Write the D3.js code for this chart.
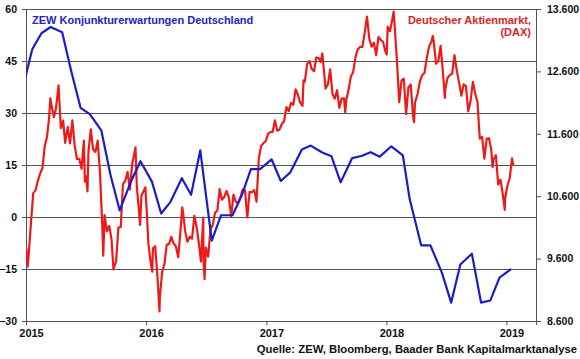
<!DOCTYPE html>
<html lang="de">
<head>
<meta charset="utf-8">
<title>ZEW und DAX</title>
<script src="https://cdnjs.cloudflare.com/ajax/libs/d3/7.8.5/d3.min.js"></script>
<style>
  html, body { margin: 0; padding: 0; background: #fff; }
  text { font-family: "Liberation Sans", Arial, sans-serif; font-weight: bold; }
</style>
</head>
<body>
<script>
// ZEW Konjunkturerwartungen (Veröffentlichungstermine, monatlich)
const zewDates = [
  "2014-12-16",
  "2015-01-20","2015-02-17","2015-03-17","2015-04-21","2015-05-19","2015-06-16",
  "2015-07-14","2015-08-18","2015-09-15","2015-10-13","2015-11-17","2015-12-15",
  "2016-01-19","2016-02-16","2016-03-15","2016-04-19","2016-05-17","2016-06-14",
  "2016-07-19","2016-08-16","2016-09-20","2016-10-18","2016-11-15","2016-12-13",
  "2017-01-17","2017-02-14","2017-03-14","2017-04-19","2017-05-16","2017-06-20",
  "2017-07-18","2017-08-15","2017-09-19","2017-10-17","2017-11-14","2017-12-12",
  "2018-01-16","2018-02-20","2018-03-13","2018-04-17","2018-05-15","2018-06-19",
  "2018-07-17","2018-08-14","2018-09-18","2018-10-16","2018-11-13","2018-12-11",
  "2019-01-15"
];
const zewValues = [
  34.9,
  48.4, 53.0, 54.8, 53.3, 41.9, 31.5, 29.7, 25.0, 12.1, 1.9, 10.4, 16.1,
  10.2, 1.0, 4.3, 11.2, 6.4, 19.2, -6.8, 0.5, 0.5, 6.2, 13.8, 13.8,
  16.6, 10.4, 12.8, 19.5, 20.6, 18.6, 17.5, 10.0, 17.0, 17.6, 18.7, 17.4,
  20.4, 17.8, 5.1, -8.2, -8.2, -16.1, -24.7, -13.7, -10.6, -24.7, -24.1, -17.5,
  -15.0
];

// DAX (Schlusskurse, etwa wöchentlich)
const daxDates = [
  "2015-01-02","2015-01-06","2015-01-09","2015-01-16","2015-01-23","2015-01-30",
  "2015-02-06","2015-02-13","2015-02-20","2015-02-27","2015-03-06","2015-03-13",
  "2015-03-16","2015-03-20","2015-03-27","2015-04-02","2015-04-10","2015-04-17",
  "2015-04-24","2015-04-30","2015-05-08","2015-05-15","2015-05-22","2015-05-29",
  "2015-06-05","2015-06-12","2015-06-19","2015-06-26","2015-06-29","2015-07-03",
  "2015-07-07","2015-07-10","2015-07-17","2015-07-24","2015-07-31","2015-08-07",
  "2015-08-14","2015-08-21","2015-08-24","2015-08-28","2015-09-04","2015-09-11",
  "2015-09-18","2015-09-24","2015-10-02","2015-10-09","2015-10-16","2015-10-23",
  "2015-10-30","2015-11-06","2015-11-13","2015-11-20","2015-11-30","2015-12-04",
  "2015-12-11","2015-12-14","2015-12-18","2015-12-30",
  "2016-01-04","2016-01-08","2016-01-15","2016-01-20","2016-01-22","2016-01-29",
  "2016-02-05","2016-02-11","2016-02-12","2016-02-19","2016-02-26","2016-03-04",
  "2016-03-11","2016-03-18","2016-03-24","2016-04-01","2016-04-08","2016-04-15",
  "2016-04-20","2016-04-22","2016-04-29","2016-05-06","2016-05-13","2016-05-20",
  "2016-05-27","2016-06-03","2016-06-10","2016-06-16","2016-06-23","2016-06-24",
  "2016-06-27","2016-07-01","2016-07-08","2016-07-15","2016-07-22","2016-07-29",
  "2016-08-05","2016-08-12","2016-08-19","2016-08-26","2016-09-02","2016-09-09",
  "2016-09-16","2016-09-23","2016-09-30","2016-10-07","2016-10-14","2016-10-21",
  "2016-10-28","2016-11-04","2016-11-11","2016-11-18","2016-11-25","2016-12-02",
  "2016-12-09","2016-12-16","2016-12-23","2016-12-30",
  "2017-01-06","2017-01-13","2017-01-20","2017-01-27","2017-02-03","2017-02-10",
  "2017-02-17","2017-02-24","2017-03-03","2017-03-10","2017-03-17","2017-03-24",
  "2017-03-31","2017-04-07","2017-04-13","2017-04-21","2017-04-24","2017-04-28",
  "2017-05-05","2017-05-12","2017-05-19","2017-05-26","2017-06-02","2017-06-09",
  "2017-06-16","2017-06-20","2017-06-23","2017-06-30","2017-07-07","2017-07-14",
  "2017-07-21","2017-07-28","2017-08-04","2017-08-11","2017-08-18","2017-08-25",
  "2017-08-29","2017-09-01","2017-09-08","2017-09-15","2017-09-22","2017-09-29",
  "2017-10-06","2017-10-13","2017-10-20","2017-10-27","2017-11-03","2017-11-10",
  "2017-11-17","2017-11-24","2017-12-01","2017-12-08","2017-12-15","2017-12-22",
  "2017-12-29",
  "2018-01-02","2018-01-05","2018-01-12","2018-01-19","2018-01-23","2018-01-26",
  "2018-02-02","2018-02-09","2018-02-16","2018-02-23","2018-03-02","2018-03-09",
  "2018-03-16","2018-03-23","2018-03-26","2018-03-29","2018-04-06","2018-04-13",
  "2018-04-20","2018-04-27","2018-05-04","2018-05-11","2018-05-18","2018-05-22",
  "2018-05-25","2018-06-01","2018-06-08","2018-06-15","2018-06-22","2018-06-28",
  "2018-06-29","2018-07-06","2018-07-13","2018-07-20","2018-07-27","2018-08-03",
  "2018-08-10","2018-08-17","2018-08-24","2018-08-31","2018-09-07","2018-09-14",
  "2018-09-21","2018-09-28","2018-10-05","2018-10-12","2018-10-19","2018-10-26",
  "2018-11-02","2018-11-09","2018-11-16","2018-11-20","2018-11-23","2018-11-30",
  "2018-12-07","2018-12-14","2018-12-21","2018-12-27","2018-12-28",
  "2019-01-04","2019-01-11","2019-01-18","2019-01-22"
];
const daxValues = [
  9765, 9470, 9648, 10168, 10649, 10694,
  10846, 10963, 11051, 11402, 11551, 11901,
  12168, 12040, 11868, 12001, 12375, 11689,
  11811, 11454, 11709, 11447, 11815, 11414,
  11197, 11197, 11041, 11492, 10832, 10916,
  10676, 11316, 11673, 11347, 11309, 11490,
  10985, 10124, 9648, 10298, 10038, 10123,
  9916, 9428, 9554, 10096, 10104, 10795,
  10850, 10988, 10708, 11119, 11382, 10752,
  10340, 10140, 10608, 10743,
  10283, 9849, 9545, 9391, 9764, 9798,
  9286, 8752, 8967, 9388, 9513, 9824,
  9831, 9950, 9851, 9794, 9622, 10051,
  10421, 10373, 10039, 9870, 9952, 9917,
  10287, 10103, 9834, 9550, 10257, 9557,
  9269, 9776, 9630, 10066, 10147, 10337,
  10367, 10713, 10544, 10588, 10684, 10573,
  10276, 10627, 10511, 10490, 10580, 10711,
  10696, 10259, 10668, 10664, 10700, 10513,
  11203, 11404, 11450, 11481,
  11599, 11629, 11630, 11814, 11651, 11666,
  11757, 11804, 12027, 11963, 12095, 12064,
  12313, 12225, 12109, 12049, 12455, 12438,
  12717, 12770, 12638, 12602, 12823, 12815,
  12752, 12889, 12733, 12325, 12389, 12632,
  12240, 12163, 12298, 12014, 12165, 12168,
  11945, 12143, 12304, 12519, 12592, 12829,
  12956, 12992, 12991, 13217, 13479, 13127,
  12994, 13060, 12861, 13153, 13103, 13073,
  12918,
  12871, 13319, 13245, 13434, 13559, 13340,
  12785, 12107, 12452, 12483, 11914, 12346,
  12390, 11886, 11787, 12097, 12241, 12442,
  12540, 12580, 12820, 13001, 13077, 13169,
  13078, 12724, 12767, 13011, 12580, 12177,
  12306, 12497, 12541, 12561, 12860, 12616,
  12424, 12211, 12394, 12364, 11960, 12124,
  12431, 12247, 12111, 11523, 11553, 11201,
  11519, 11529, 11341, 11066, 11193, 11257,
  10788, 10865, 10634, 10382, 10559,
  10768, 10887, 11205, 11090
];

const leftTicks = [-30, -15, 0, 15, 30, 45, 60];
const rightTicks = [8600, 9600, 10600, 11600, 12600, 13600];
const yearTicks = ["2015", "2016", "2017", "2018", "2019"];

const width = 580, height = 359;
const m = { left: 26, right: 536, top: 9, bottom: 321 };
const blue = "#1c1cc8", red = "#ee1a1a", grid = "#555";

const parse = d3.timeParse("%Y-%m-%d");
const de = d3.formatLocale({ decimal: ",", thousands: ".", grouping: [3], currency: ["", "€"] });
const fmtR = de.format(",");

const x = d3.scaleTime()
  .domain([parse("2015-01-01"), parse("2019-04-01")])
  .range([m.left, m.right]);
const yL = d3.scaleLinear().domain([-30, 60]).range([m.bottom, m.top]);
const yR = d3.scaleLinear().domain([8600, 13600]).range([m.bottom, m.top]);

const zew = zewDates.map((d, i) => ({ date: parse(d), v: zewValues[i] }));
const dax = daxDates.map((d, i) => ({ date: parse(d), v: daxValues[i] }));

const svg = d3.select("body").append("svg")
  .attr("width", width)
  .attr("height", height);

svg.append("defs").append("clipPath").attr("id", "plot")
  .append("rect")
  .attr("x", m.left).attr("y", m.top - 2)
  .attr("width", m.right - m.left).attr("height", m.bottom - m.top + 4);

// gridlines
svg.append("g").selectAll("line")
  .data(leftTicks)
  .join("line")
  .attr("x1", m.left - 4).attr("x2", m.right)
  .attr("y1", d => yL(d)).attr("y2", d => yL(d))
  .attr("stroke", grid).attr("stroke-width", 1)
  .attr("shape-rendering", "crispEdges");

const styleAxis = (g, size) => {
  g.select(".domain").attr("stroke", grid);
  g.selectAll(".tick line").attr("stroke", grid);
  g.selectAll("text").attr("font-size", size).attr("fill", "#111")
    .attr("font-family", "Liberation Sans, Arial, sans-serif").attr("font-weight", "bold");
};

// left axis
const axL = svg.append("g").attr("transform", `translate(${m.left},0)`)
  .call(d3.axisLeft(yL).tickValues(leftTicks).tickSize(4).tickPadding(5));
styleAxis(axL, 10.5);

// right axis
const axR = svg.append("g").attr("transform", `translate(${m.right},0)`)
  .call(d3.axisRight(yR).tickValues(rightTicks).tickFormat(fmtR).tickSize(5).tickPadding(6));
styleAxis(axR, 10.5);

// bottom axis
const axB = svg.append("g").attr("transform", `translate(0,${m.bottom})`)
  .call(d3.axisBottom(x).tickValues(yearTicks.map(y => parse(y + "-01-01")))
    .tickFormat(d3.timeFormat("%Y")).tickSize(4).tickPadding(4));
styleAxis(axB, 11);
axB.selectAll("text").attr("dx", 5);

// lines
const plot = svg.append("g").attr("clip-path", "url(#plot)");

plot.append("path")
  .datum(dax)
  .attr("fill", "none")
  .attr("stroke", red)
  .attr("stroke-width", 2.2)
  .attr("stroke-linejoin", "round")
  .attr("d", d3.line().x(d => x(d.date)).y(d => yR(d.v)));

plot.append("path")
  .datum(zew)
  .attr("fill", "none")
  .attr("stroke", blue)
  .attr("stroke-width", 2.2)
  .attr("stroke-linejoin", "round")
  .attr("d", d3.line().x(d => x(d.date)).y(d => yL(d.v)));

// legend texts
svg.append("text")
  .attr("x", 32).attr("y", 23.5)
  .attr("font-size", 11).attr("fill", "#2222cc")
  .text("ZEW Konjunkturerwartungen Deutschland");

svg.append("text")
  .attr("x", 531).attr("y", 23.5).attr("text-anchor", "end")
  .attr("font-size", 11).attr("fill", "#e01e1e")
  .text("Deutscher Aktienmarkt,");
svg.append("text")
  .attr("x", 531).attr("y", 36).attr("text-anchor", "end")
  .attr("font-size", 11).attr("fill", "#e01e1e")
  .text("(DAX)");

// source
svg.append("text")
  .attr("x", 577).attr("y", 353).attr("text-anchor", "end")
  .attr("font-size", 11.3).attr("fill", "#111")
  .text("Quelle: ZEW, Bloomberg, Baader Bank Kapitalmarktanalyse");
</script>
</body>
</html>
